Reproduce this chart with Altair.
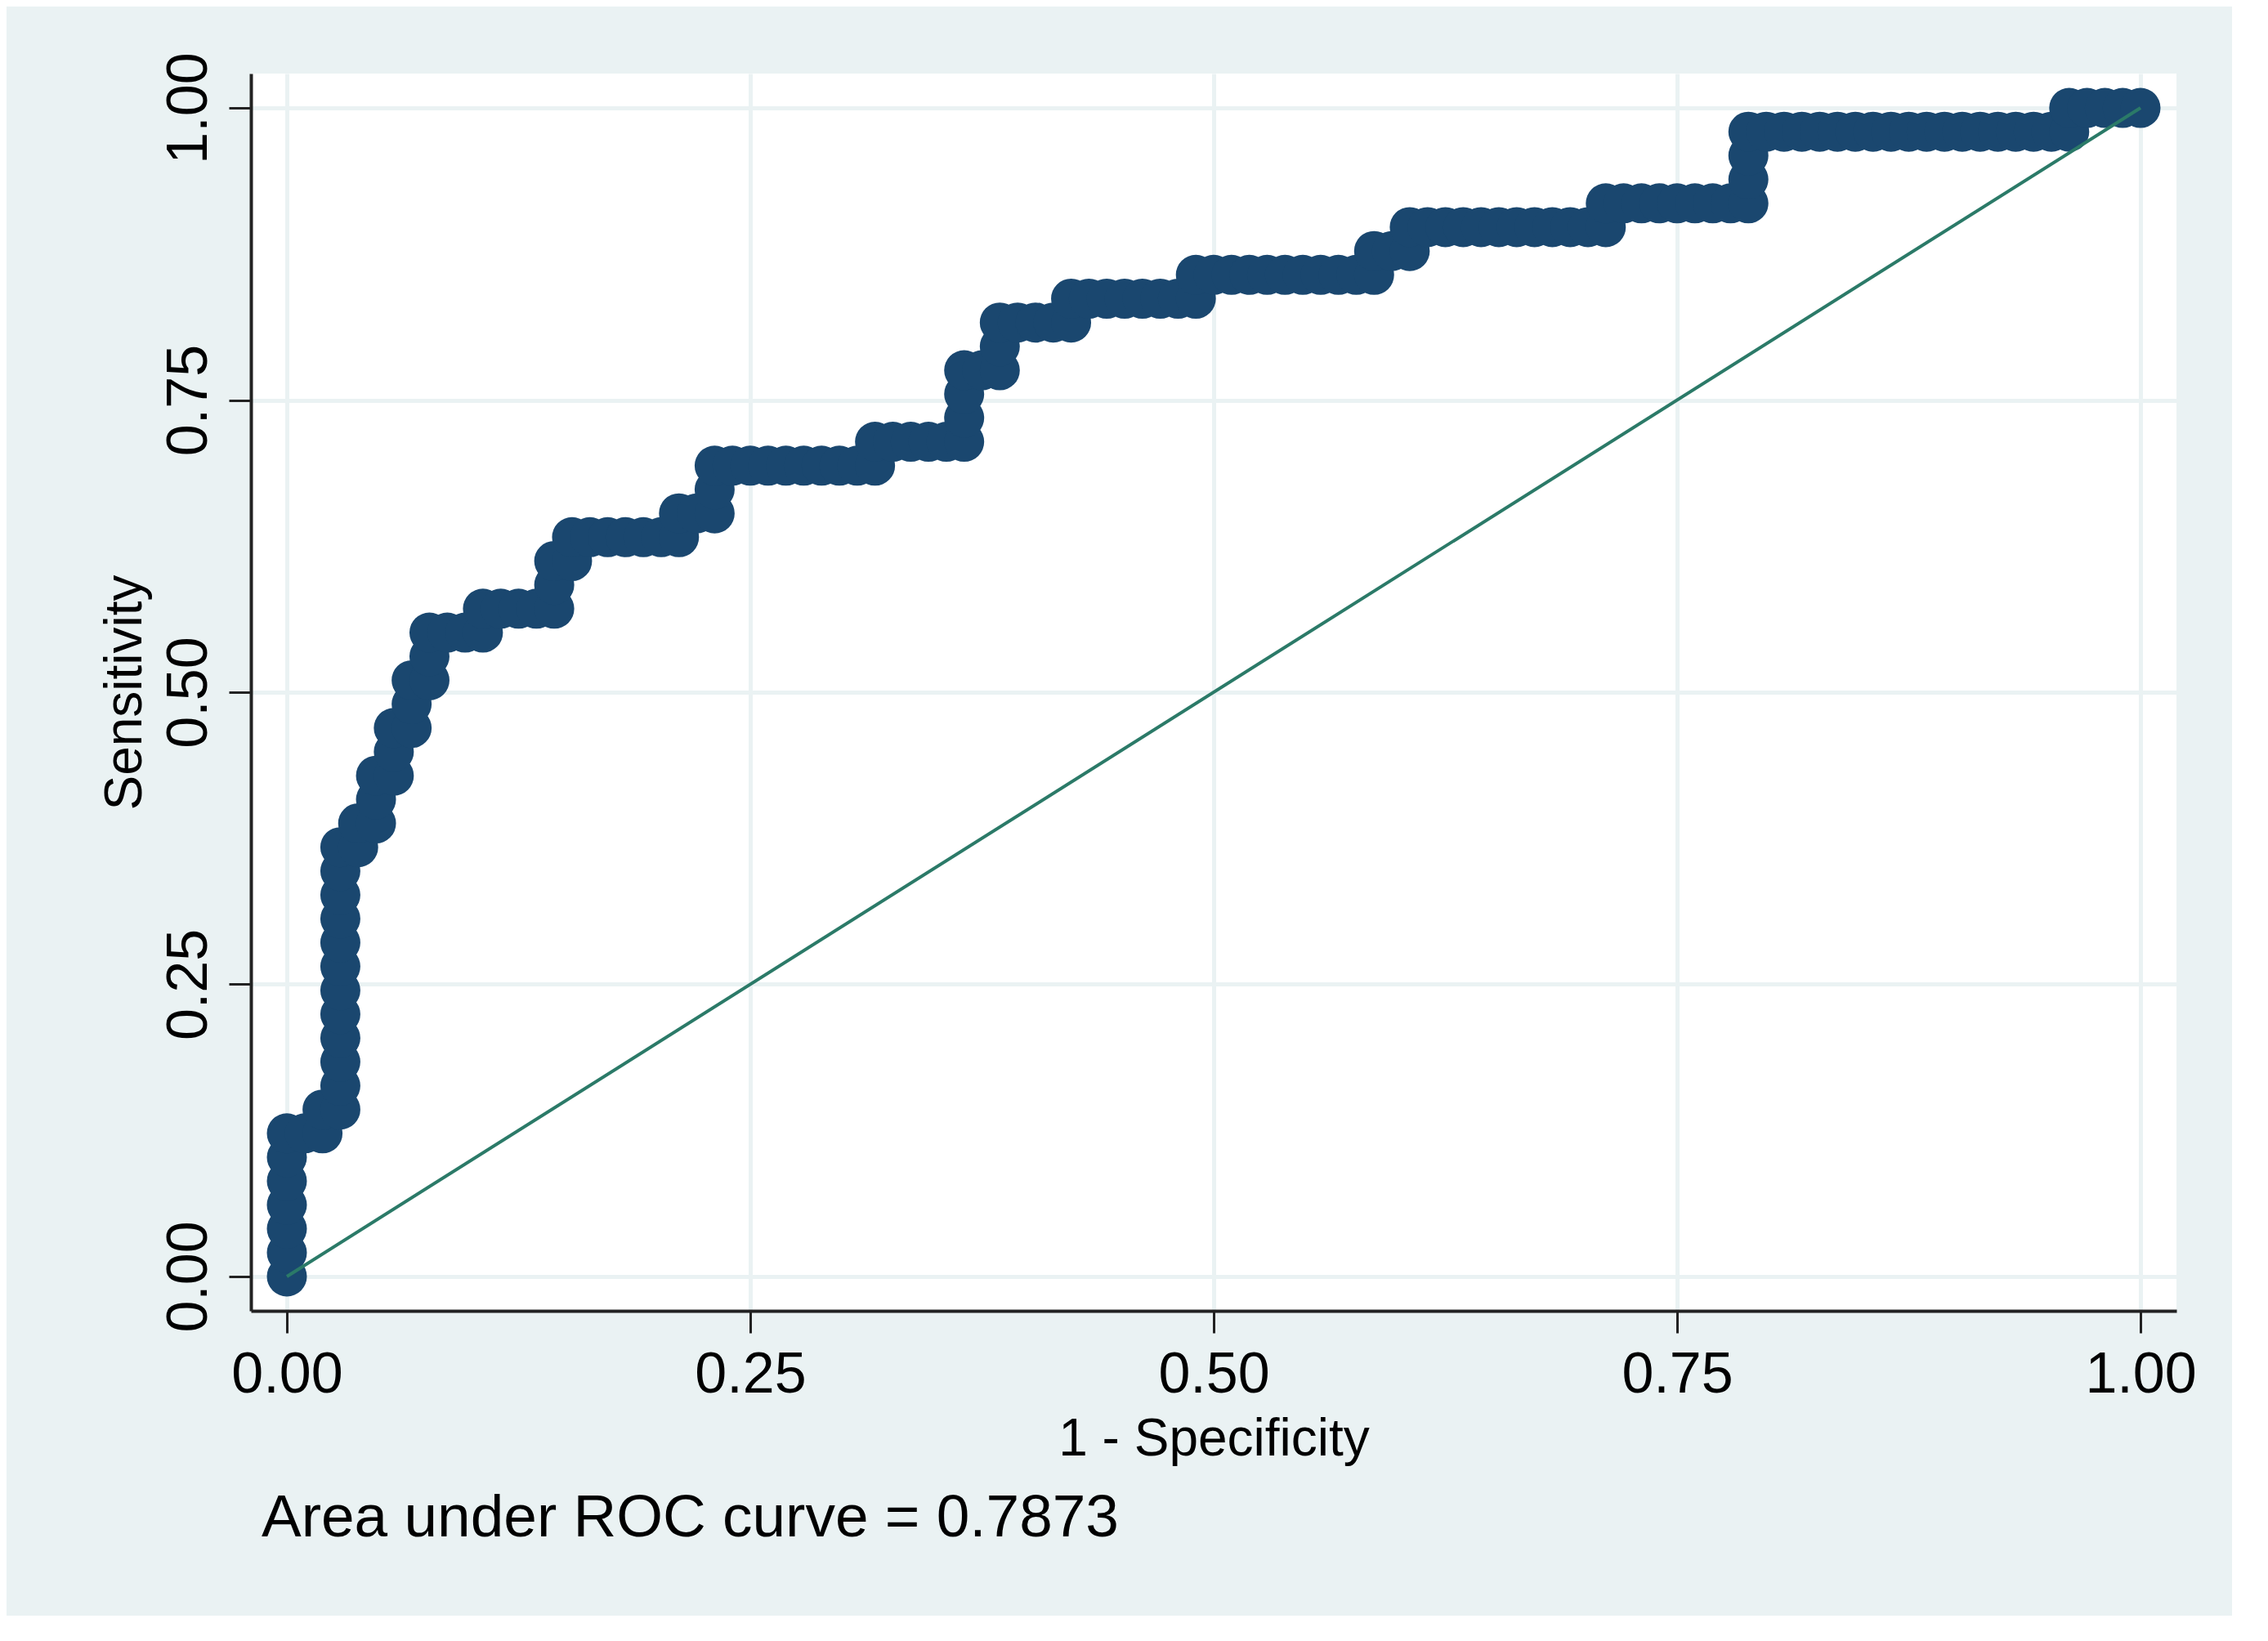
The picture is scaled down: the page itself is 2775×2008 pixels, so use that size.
import altair as alt
import pandas as pd

# ---------------- data ----------------
N_NEG = 104   # number of negatives (step in 1 - specificity)
N_POS = 49    # number of positives (step in sensitivity)

# cumulative false-positive count at each ROC point
fp_count = [
    0, 0, 0, 0, 0, 0, 0,
    1, 2,
    2,
    3, 3, 3, 3, 3, 3, 3, 3, 3, 3, 3, 3,
    4, 4,
    5, 5, 5,
    6, 6, 6,
    7, 7, 7,
    8, 8, 8,
    9, 10, 11,
    11,
    12, 13, 14, 15,
    15, 15,
    16, 16,
    17, 18, 19, 20, 21, 22,
    22,
    23, 24,
    24, 24,
    25, 26, 27, 28, 29, 30, 31, 32, 33,
    33,
    34, 35, 36, 37, 38,
    38, 38, 38,
    39, 40,
    40, 40,
    41, 42, 43, 44,
    44,
    45, 46, 47, 48, 49, 50, 51,
    51,
    52, 53, 54, 55, 56, 57, 58, 59, 60, 61,
    61,
    62, 63,
    63,
    64, 65, 66, 67, 68, 69, 70, 71, 72, 73, 74,
    74,
    75, 76, 77, 78, 79, 80, 81, 82,
    82, 82, 82,
    83, 84, 85, 86, 87, 88, 89, 90, 91, 92, 93, 94, 95, 96, 97, 98, 99, 100,
    100,
    101, 102, 103, 104,
]

# cumulative true-positive count at each ROC point
tp_count = [
    0, 1, 2, 3, 4, 5, 6,
    6, 6,
    7,
    7, 8, 9, 10, 11, 12, 13, 14, 15, 16, 17, 18,
    18, 19,
    19, 20, 21,
    21, 22, 23,
    23, 24, 25,
    25, 26, 27,
    27, 27, 27,
    28,
    28, 28, 28, 28,
    29, 30,
    30, 31,
    31, 31, 31, 31, 31, 31,
    32,
    32, 32,
    33, 34,
    34, 34, 34, 34, 34, 34, 34, 34, 34,
    35,
    35, 35, 35, 35, 35,
    36, 37, 38,
    38, 38,
    39, 40,
    40, 40, 40, 40,
    41,
    41, 41, 41, 41, 41, 41, 41,
    42,
    42, 42, 42, 42, 42, 42, 42, 42, 42, 42,
    43,
    43, 43,
    44,
    44, 44, 44, 44, 44, 44, 44, 44, 44, 44, 44,
    45,
    45, 45, 45, 45, 45, 45, 45, 45,
    46, 47, 48,
    48, 48, 48, 48, 48, 48, 48, 48, 48, 48, 48, 48, 48, 48, 48, 48, 48, 48,
    49,
    49, 49, 49, 49,
]
assert len(fp_count) == len(tp_count)

ref_x = [0.0, 1.0]
ref_y = [0.0, 1.0]

x_ticks = [0.0, 0.25, 0.5, 0.75, 1.0]
y_ticks = [0.0, 0.25, 0.5, 0.75, 1.0]

x_title = "1 - Specificity"
y_title = "Sensitivity"
note_text = "Area under ROC curve = 0.7873"

# ---------------- styling ----------------
NAVY = "#1a476f"
GREEN = "#2b7a68"
BG = "#eaf2f3"
AXIS_COL = "#222222"
FONT = "Liberation Sans"

roc = pd.DataFrame({
    "fpr": [f / N_NEG for f in fp_count],
    "tpr": [t / N_POS for t in tp_count],
    "order": list(range(len(fp_count))),
})
ref = pd.DataFrame({"fpr": ref_x, "tpr": ref_y})

xs = alt.Scale(domain=[-0.0194, 1.0194], nice=False, zero=False)
ys = alt.Scale(domain=[-0.0294, 1.0294], nice=False, zero=False)

x_axis = alt.Axis(
    values=x_ticks, format=".2f", title=x_title,
    labelFontSize=70, labelPadding=72, labelBaseline="alphabetic",
    labelFlush=False, titleFontSize=64, titleBaseline="alphabetic",
    titleY=176,
)
y_axis = alt.Axis(
    values=y_ticks, format=".2f", title=y_title,
    labelFontSize=70, labelAngle=270, labelAlign="center",
    labelBaseline="alphabetic", labelPadding=28, labelFlush=False,
    titleFontSize=64, titleAngle=270, titleAlign="center",
    titleBaseline="alphabetic", titleX=-135, titleY=757,
)

line = alt.Chart(roc).mark_line(color=NAVY, strokeWidth=3).encode(
    x=alt.X("fpr:Q", scale=xs, axis=x_axis),
    y=alt.Y("tpr:Q", scale=ys, axis=y_axis),
    order="order:Q",
)

points = alt.Chart(roc).mark_circle(
    size=2400, color=NAVY, opacity=1, strokeWidth=0
).encode(
    x=alt.X("fpr:Q", scale=xs),
    y=alt.Y("tpr:Q", scale=ys),
)

diag = alt.Chart(ref).mark_line(color=GREEN, strokeWidth=4).encode(
    x=alt.X("fpr:Q", scale=xs),
    y=alt.Y("tpr:Q", scale=ys),
)

chart = (
    alt.layer(line, points, diag)
    .properties(
        width=2356,
        height=1514,
        autosize=alt.AutoSizeParams(type="none"),
        padding={"left": 299, "top": 82, "right": 68, "bottom": 373},
        background=BG,
        title=alt.TitleParams(
            text=note_text, orient="bottom", anchor="start", frame="group",
            fontSize=73, font=FONT, fontWeight="normal", color="black",
            offset=29, dx=13,
        ),
    )
    .configure_view(fill="white", stroke=None)
    .configure_axis(
        labelFont=FONT, titleFont=FONT, labelColor="black", titleColor="black",
        titleFontWeight="normal",
        domainColor=AXIS_COL, domainWidth=4,
        tickColor=AXIS_COL, tickWidth=3, tickSize=27,
        gridColor=BG, gridWidth=5, gridOpacity=1,
    )
)

chart.save("out.html", embed_options={"renderer": "svg", "actions": False})
